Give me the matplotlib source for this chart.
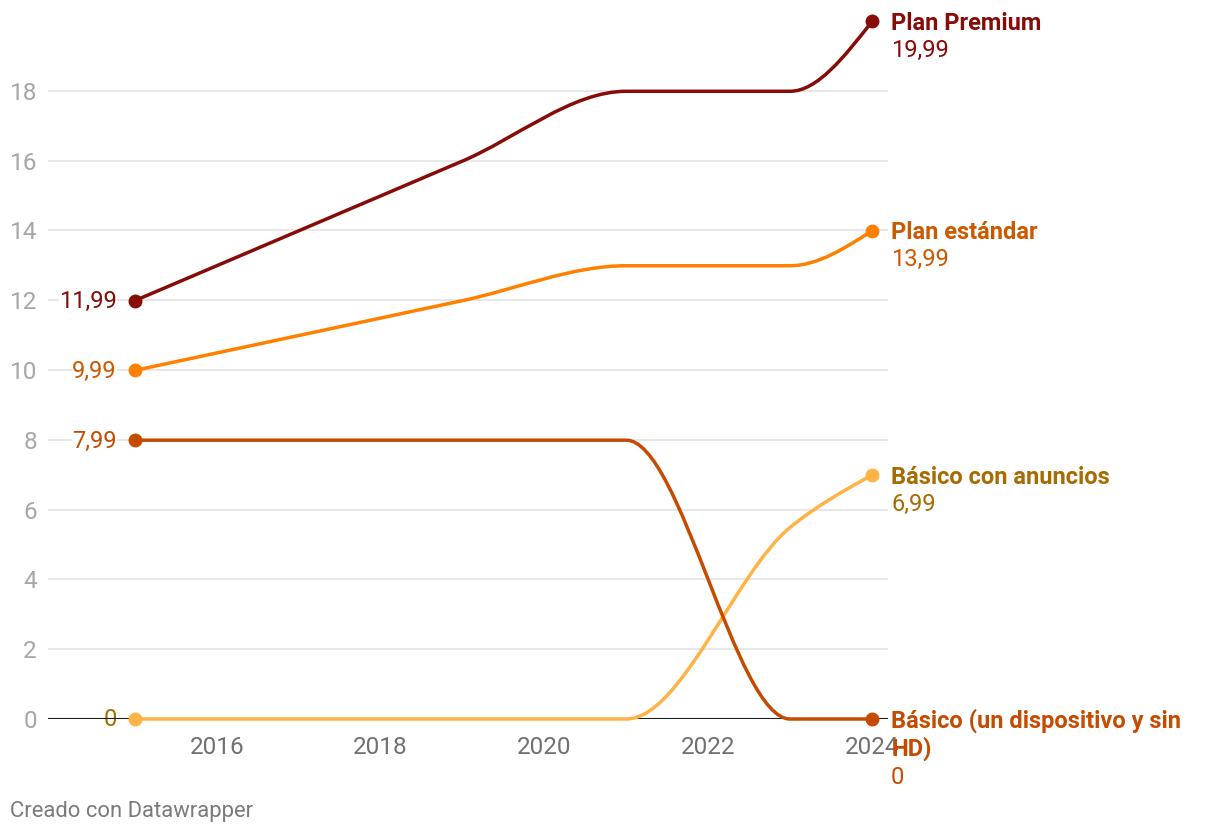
import matplotlib
matplotlib.use('Agg')
import matplotlib.pyplot as plt
from matplotlib.path import Path
from matplotlib.patches import PathPatch
import numpy as np

plt.rcParams['font.family'] = ['Roboto', 'DejaVu Sans']

# Data (precio mensual en euros)
years = [2015, 2019, 2021, 2023, 2024]
series_names = ['Básico con anuncios', 'Básico (un dispositivo y sin\nHD)',
                'Plan estándar', 'Plan Premium']
series_values = [
    [0, 0, 0, 5.49, 6.99],
    [7.99, 7.99, 7.99, 0, 0],
    [9.99, 11.99, 12.99, 12.99, 13.99],
    [11.99, 15.99, 17.99, 17.99, 19.99],
]
line_colors = ['#ffb347', '#c44b00', '#ff8000', '#870b06']
label_colors = ['#a86b00', '#c44b00', '#cc5800', '#870b06']
yticks = [0, 2, 4, 6, 8, 10, 12, 14, 16, 18]
xticks = [2016, 2018, 2020, 2022, 2024]


def fmt(v):
    return ('%.2f' % v).replace('.', ',') if v else '0'


def monotone_path(x, y):
    # monotone-x cubic curve, like Datawrapper / d3.curveMonotoneX
    x = np.asarray(x, float)
    y = np.asarray(y, float)
    h = np.diff(x)
    s = np.diff(y) / h
    n = len(x)
    t = np.zeros(n)
    for i in range(1, n - 1):
        p = (s[i - 1] * h[i] + s[i] * h[i - 1]) / (h[i - 1] + h[i])
        t[i] = (np.sign(s[i - 1]) + np.sign(s[i])) * min(abs(s[i - 1]), abs(s[i]), 0.5 * abs(p))
    t[0] = (3 * s[0] - t[1]) / 2
    t[-1] = (3 * s[-1] - t[-2]) / 2
    verts = [(x[0], y[0])]
    codes = [Path.MOVETO]
    for i in range(n - 1):
        dx = h[i] / 3
        verts += [(x[i] + dx, y[i] + dx * t[i]),
                  (x[i + 1] - dx, y[i + 1] - dx * t[i + 1]),
                  (x[i + 1], y[i + 1])]
        codes += [Path.CURVE4] * 3
    return Path(verts, codes)


fig = plt.figure(figsize=(12.2, 8.36), dpi=100)
ax = fig.add_axes([48 / 1220, 1 - 719 / 836, 840 / 1220, 701 / 836])
ax.set_xlim(2013.94, 2024.195)
ax.set_ylim(0, 20.09)

for side in ax.spines.values():
    side.set_visible(False)
ax.set_yticks(yticks)
ax.set_xticks(xticks)
ax.set_yticklabels([str(v) for v in yticks])
ax.set_xticklabels([str(v) for v in xticks])
ax.tick_params(axis='y', length=0, pad=8, labelsize=17.5, labelcolor='#a6a6a6')
ax.tick_params(axis='x', length=0, pad=12, labelsize=17.5, labelcolor='#707070')
ax.grid(axis='y', color='#e3e3e3', linewidth=1.2)
ax.axhline(0, color='#1a1a1a', linewidth=1.5, zorder=2)

for name, vals, lc, tc in zip(series_names, series_values, line_colors, label_colors):
    ax.add_patch(PathPatch(monotone_path(years, vals), facecolor='none',
                           edgecolor=lc, linewidth=2.5, zorder=3, clip_on=False,
                           capstyle='round'))
    ax.plot([years[0], years[-1]], [vals[0], vals[-1]], 'o', color=lc,
            markersize=9, zorder=4, clip_on=False)
    # start value
    ax.annotate(fmt(vals[0]), (years[0], vals[0]), xytext=(-18, -1),
                textcoords='offset pixels', ha='right', va='center',
                fontsize=17, color=tc, zorder=1.8,
                bbox=dict(facecolor='white', edgecolor='none', pad=0))
    # end label lines + value
    lines = name.split('\n')
    for k, ln in enumerate(lines):
        ax.annotate(ln, (years[-1], vals[-1]), xytext=(19, -2 - 27.5 * k),
                    textcoords='offset pixels', ha='left', va='center',
                    fontsize=17, fontweight='bold', color=tc,
                    annotation_clip=False)
    ax.annotate(fmt(vals[-1]), (years[-1], vals[-1]), xytext=(19, -29 * len(lines)),
                textcoords='offset pixels', ha='left', va='center',
                fontsize=17, color=tc, annotation_clip=False)

fig.text(10 / 1220, 1 - 812 / 836, 'Creado con Datawrapper', fontsize=15.8,
         color='#7a7a7a', ha='left', va='center')

fig.savefig('out.png', dpi=100)
